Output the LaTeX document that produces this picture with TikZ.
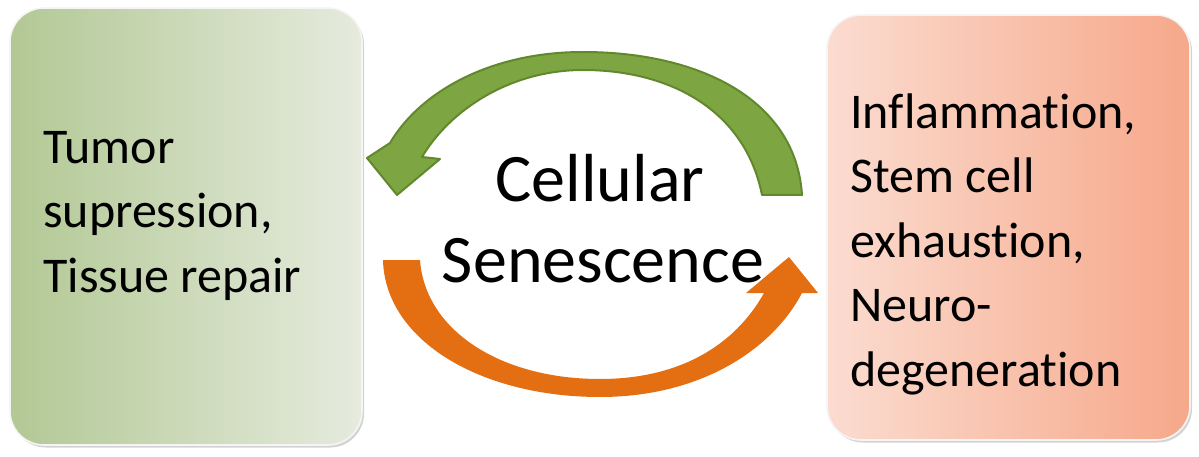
\documentclass[tikz,border=0pt]{standalone}
\usepackage{fontspec}
\setmainfont{Carlito}[RawFeature=-liga]
\usetikzlibrary{shadows}
\definecolor{gboxL}{RGB}{178,200,148}
\definecolor{gboxR}{RGB}{230,235,222}
\definecolor{rboxL}{RGB}{251,220,208}
\definecolor{rboxR}{RGB}{246,168,138}
\definecolor{agreen}{RGB}{125,166,66}
\definecolor{agreenD}{RGB}{98,136,46}
\definecolor{aorange}{RGB}{228,110,18}
\tikzset{
  panel/.style={rounded corners=34pt, draw=white!92!gray, line width=1.6pt,
    drop shadow={shadow xshift=2pt, shadow yshift=-2.5pt, opacity=0.35},
    inner sep=0pt},
  paneltext/.style={align=left, anchor=base west, inner sep=0pt,
    font=\fontsize{50}{64.5}\selectfont},
  centertext/.style={align=center, inner sep=0pt, font=\fontsize{68}{82}\selectfont}
}
\begin{document}
\begin{tikzpicture}[x=1pt,y=-1pt]
\useasboundingbox (0,0) rectangle (1199,457);
% boxes
\node[panel, left color=gboxL, right color=gboxR, minimum width=352pt, minimum height=437pt] (L) at (186,226.5) {};
\node[panel, left color=rboxL, right color=rboxR, minimum width=363pt, minimum height=425pt] (R) at (1008.5,227.5) {};
% arrows
\fill[agreen, draw=agreenD, line width=2pt, line join=round]
  (802,195) .. controls (796,100) and (700,52) .. (583,52)
  .. controls (490,52) and (420,92) .. (390,143)
  -- (367,158) -- (397,195) -- (440,159) -- (422,157)
  .. controls (450,110) and (510,70) .. (583,70)
  .. controls (670,70) and (745,110) .. (762,195) -- cycle;
\fill[aorange]
  (383,260) .. controls (385,340) and (480,397) .. (600,397)
  .. controls (700,397) and (772,350) .. (802,293)
  -- (818,293) -- (789,257) -- (746,293) -- (764,293)
  .. controls (735,345) and (680,379) .. (600,379)
  .. controls (500,379) and (425,330) .. (420,260) -- cycle;
% texts
\node[paneltext] (Lt) at (43,292) {Tumor\\supression,\\Tissue repair};
\node[paneltext] (Rt) at (850,386) {Inflammation,\\Stem cell\\exhaustion,\\Neuro-\\degeneration};
\node[centertext, anchor=base] (C1) at (600,202) {Cellular};
\node[centertext, anchor=base] (C2) at (603,282) {Senescence};
\end{tikzpicture}
\end{document}
